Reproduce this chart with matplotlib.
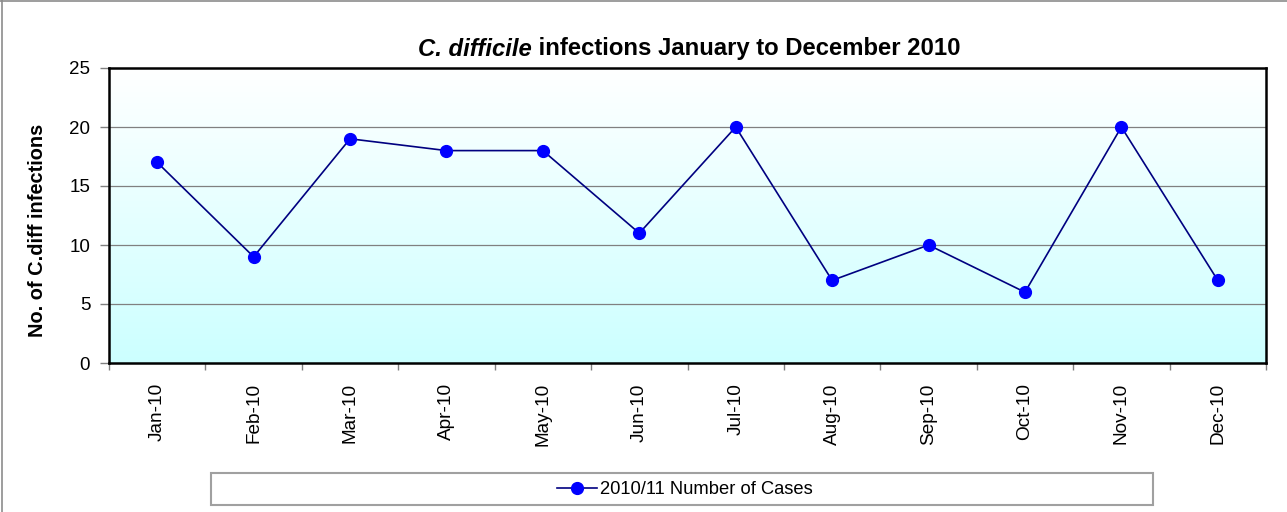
import numpy as np
import matplotlib
matplotlib.use("Agg")
from matplotlib import pyplot as plt
from matplotlib.colors import LinearSegmentedColormap
from matplotlib.patches import Rectangle
from matplotlib.lines import Line2D

plt.rcParams['font.family'] = ['Liberation Sans', 'DejaVu Sans']

# Data
months = ["Jan-10", "Feb-10", "Mar-10", "Apr-10", "May-10", "Jun-10",
          "Jul-10", "Aug-10", "Sep-10", "Oct-10", "Nov-10", "Dec-10"]
cases = [17, 9, 19, 18, 18, 11, 20, 7, 10, 6, 20, 7]
y_ticks = [0, 5, 10, 15, 20, 25]
series_name = "2010/11 Number of Cases"

W, H = 1287, 512
fig = plt.figure(figsize=(W / 100, H / 100), dpi=100)

# outer chart border (only top and left edges visible in the reference)
fig.lines.append(Line2D([0, 1], [1 - 0.8 / H, 1 - 0.8 / H], transform=fig.transFigure,
                        color='#8c8c8c', linewidth=1.2))
fig.lines.append(Line2D([1.5 / W, 1.5 / W], [0, 1], transform=fig.transFigure,
                        color='#8c8c8c', linewidth=1.2))

left, right, top, bottom = 109, 1266, 68, 363
ax = fig.add_axes([left / W, 1 - bottom / H, (right - left) / W, (bottom - top) / H])

x = np.arange(len(months))
ax.set_xlim(-0.5, len(months) - 0.5)
ax.set_ylim(0, 25)

# gradient background: white at top to pale cyan at bottom
cmap = LinearSegmentedColormap.from_list("bg", ["#CCFFFF", "#FFFFFF"])
grad = np.linspace(0, 1, 256).reshape(-1, 1)
ax.imshow(grad, cmap=cmap, aspect='auto', origin='lower',
          extent=[-0.5, len(months) - 0.5, 0, 25], zorder=0)

for yv in y_ticks[1:-1]:
    ax.axhline(yv, color='#808080', linewidth=0.9, zorder=1)

ax.plot(x, cases, color='#000080', linewidth=1.2, marker='o', markersize=8.5,
        markerfacecolor='#0000FF', markeredgecolor='#0000FF', zorder=3)

ax.set_yticks(y_ticks)
ax.set_yticklabels([str(v) for v in y_ticks], fontsize=13.5)
ax.set_xticks(x)
ax.set_xticklabels(months, rotation=90, fontsize=13.7)
ax.set_xticks(np.arange(-0.5, len(months)), minor=True)
ax.tick_params(axis='x', which='major', length=0, pad=14.5)
ax.tick_params(axis='x', which='minor', length=5, color='#808080', width=1)
ax.tick_params(axis='y', length=6.5, color='#808080', width=1, pad=7)

for s in ax.spines.values():
    s.set_color('black')
    s.set_linewidth(1.8)

ax.set_ylabel("No. of C.diff infections", fontsize=14.4, fontweight='bold')
ax.yaxis.set_label_coords(47 / W, 1 - 230 / H, transform=fig.transFigure)

# title: italic species name followed by plain bold text
t1 = fig.text(418 / W, 1 - 49 / H, "C. difficile", fontsize=17.2, fontweight='bold',
              fontstyle='italic', ha='left', va='center')
fig.canvas.draw()
bb = t1.get_window_extent()
fig.text(bb.x1 / W, 1 - 49 / H, " infections January to December 2010",
         fontsize=17.2, fontweight='bold', ha='left', va='center')

# legend box
fig.patches.append(Rectangle((211 / W, 1 - 505 / H), (1153 - 211) / W, 32 / H,
                             transform=fig.transFigure, facecolor='white',
                             edgecolor='#a0a0a0', linewidth=1.5))
handle = Line2D([], [], color='#000080', linewidth=1.2, marker='o', markersize=8.5,
                markerfacecolor='#0000FF', markeredgecolor='#0000FF')
leg = fig.legend([handle], [series_name], loc='center',
                 bbox_to_anchor=(685 / W, 1 - 490 / H), frameon=False, fontsize=13.2,
                 handlelength=2.2, handletextpad=0.15, borderpad=0)

fig.savefig("out.png", dpi=100)
